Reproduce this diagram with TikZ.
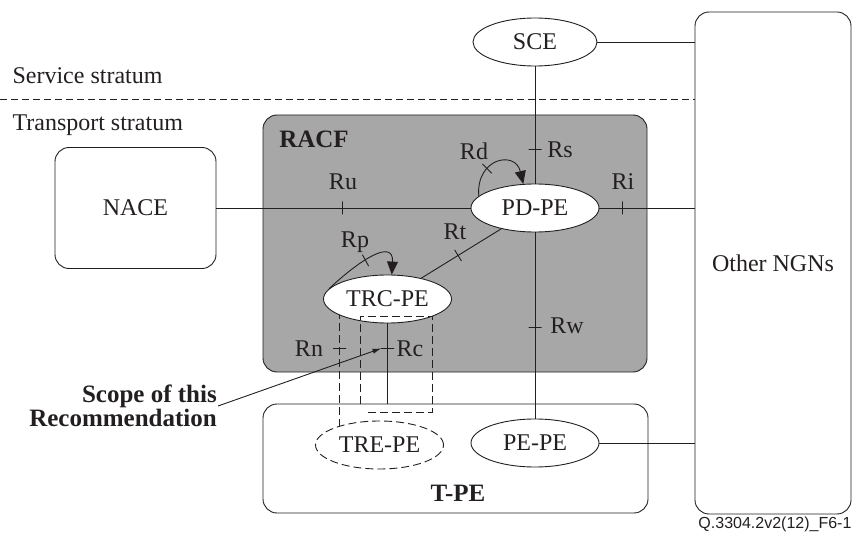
\documentclass[tikz,border=0pt]{standalone}
\usepackage{fontspec}
\setmainfont{Liberation Serif}
\setsansfont{Liberation Sans}
\usetikzlibrary{shapes.geometric, arrows.meta, calc}

\definecolor{racfgray}{RGB}{167,167,167}
\definecolor{ink}{RGB}{35,31,32}

\pgfdeclarelayer{back}
\pgfdeclarelayer{wires}
\pgfsetlayers{back,wires,main}

\begin{document}
\begin{tikzpicture}[
    x=1pt, y=-1pt,
    every node/.style={font=\fontsize{24}{26}\selectfont, text=ink},
    box/.style={rectangle, draw=ink, rounded corners=14pt, line width=0.9pt},
    ent/.style={ellipse, draw=ink, fill=white, line width=0.9pt, inner sep=0pt, minimum width=128pt, minimum height=48pt},
    wire/.style={draw=ink, line width=0.9pt},
    tickmark/.style={draw=ink, solid, line width=0.9pt, sloped, inner sep=0pt, minimum width=0pt, minimum height=13pt},
    selfarrow/.style={wire, -{Triangle[length=13pt, width=11pt]}},
    pointer/.style={wire, -{Latex[length=9pt, width=5pt]}},
    lbl/.style={anchor=base},
    bold/.style={font=\fontsize{25}{24}\selectfont\bfseries}
]
\useasboundingbox (0,0) rectangle (860,540);

% boxes, behind the wires
\begin{pgfonlayer}{back}
\node[box, minimum width=156pt, minimum height=502pt] (ngn) at (773,263) {Other NGNs};
\node[box, minimum width=161pt, minimum height=121pt] (nace) at (135.5,208) {NACE};
\node[box, fill=racfgray, minimum width=384pt, minimum height=257pt] (racf) at (455,243.5) {};
\node[box, minimum width=385pt, minimum height=109pt] (tpe) at (455.5,458.5) {};
\end{pgfonlayer}

% functional entities
\node[ent, minimum width=124pt] (sce) at (535,42) {SCE};
\node[ent] (pdpe) at (535,208) {PD-PE};
\node[ent] (trc) at (387.5,299) {TRC-PE};
\node[ent, dash pattern=on 8pt off 4pt] (tre) at (379.5,445) {TRE-PE};
\node[ent] (pepe) at (535,443) {PE-PE};
\coordinate (rntop) at ($(trc.center)+(-48,0)$);

% reference points
\begin{pgfonlayer}{wires}
\draw[wire, dash pattern=on 7pt off 4pt] (0,99) -- (ngn.west |- 0,99);
\draw[wire] (sce.east) -- (sce.east -| ngn.west);
\draw[wire] (sce) -- node[tickmark, pos=.71] {} (pdpe);
\draw[wire] (pdpe) -- node[tickmark, pos=.51] {} (pepe);
\draw[wire] (nace) -- node[tickmark, pos=.497] {} (pdpe);
\draw[wire] (pdpe) -- node[tickmark, pos=.246] {} (pdpe -| ngn.west);
\draw[wire] (pdpe) -- node[tickmark, pos=.54] {} (trc);
\draw[wire] (pepe.east) -- (pepe.east -| ngn.west);
\draw[wire] (trc.south) -- node[tickmark, pos=.31] (rct) {} (trc.south |- tpe.north);
\draw[wire, dash pattern=on 8pt off 4pt] (rntop) -- node[tickmark, pos=.336] {} (rntop |- tre.center);
\end{pgfonlayer}

\draw[wire, dash pattern=on 8pt off 4pt] (360,404) -- (360,316) -- (432,316) -- (432,412) -- (367,412);

\draw[selfarrow] (pdpe.168) .. controls +(-3,-38) and +(-8,-34) .. node[tickmark, pos=.33] {} (pdpe.116);
\draw[selfarrow] (trc.170) .. controls +(32,-30) and +(2,-36) .. node[tickmark, pos=.4] {} (trc.80);

% labels
\node[lbl, anchor=base west] at (9,84) {Service stratum};
\node[lbl, anchor=base west] at (9,131) {Transport stratum};
\node[lbl, bold] at (314,148) {RACF};
\node[lbl, bold] at (458,501) {T-PE};
\node[lbl] at (343,190) {Ru};
\node[lbl] at (623,190) {Ri};
\node[lbl] at (560,158) {Rs};
\node[lbl] at (474,160) {Rd};
\node[lbl] at (455,240) {Rt};
\node[lbl] at (355,248) {Rp};
\node[lbl] at (567,334) {Rw};
\node[lbl] at (309,356) {Rn};
\node[lbl] at (410,356) {Rc};

\node[bold, align=right, anchor=east, inner sep=1pt] (scope) at (218,406) {Scope of this\\Recommendation};
\draw[pointer] (scope.east) -- ($(rct.center)+(-6,0)$);

\node[anchor=base east, font=\sffamily\fontsize{16}{18}\selectfont] (fig) at (855,528) {Q.3304.2v2(12)\_F6-1};
\end{tikzpicture}
\end{document}
